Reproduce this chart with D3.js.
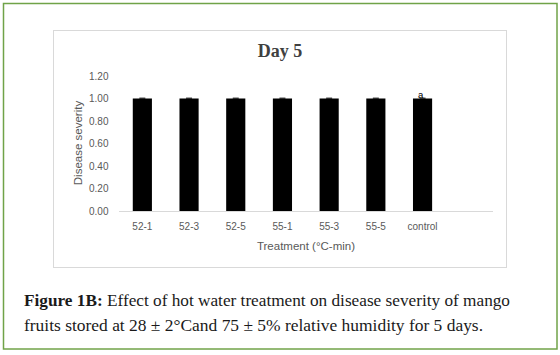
<!DOCTYPE html>
<html><head><meta charset="utf-8">
<script src="https://cdn.jsdelivr.net/npm/d3@7"></script>
<style>html,body{margin:0;padding:0;background:#fff;}svg{display:block;}</style>
</head><body>
<script>
const categories = ["52-1","52-3","52-5","55-1","55-3","55-5","control"];
const values = [1.0,1.0,1.0,1.0,1.0,1.0,1.0];
const errors = [0.003,0.003,0.003,0.003,0.003,0.003,0.003];
const letters = ["","","","","","","a"];
const yTicks = [0,0.2,0.4,0.6,0.8,1.0,1.2];

const W = 560, H = 355;
const svg = d3.select("body").append("svg").attr("width", W).attr("height", H);

// outer green frame
svg.append("rect").attr("x",3.5).attr("y",3.5).attr("width",553.5).attr("height",345.5)
  .attr("fill","#fff").attr("stroke","#70a348").attr("stroke-width",1.5);
// chart box
svg.append("rect").attr("x",53.5).attr("y",30.5).attr("width",453).attr("height",237)
  .attr("fill","#fff").attr("stroke","#d9d9d9").attr("stroke-width",1);

const x0 = 119, step = 46.7;
const x = d3.scaleBand().domain(categories).range([x0, x0 + step*categories.length]).paddingInner(0.59).paddingOuter(0.295);
const y = d3.scaleLinear().domain([0,1.2]).range([211,76]);

// title
svg.append("text").attr("x",280).attr("y",57).attr("text-anchor","middle")
  .attr("font-family","Liberation Serif").attr("font-weight","bold").attr("font-size",18)
  .attr("fill","#404040").text("Day 5");

// y axis
const yAxis = d3.axisLeft(y).tickValues(yTicks).tickFormat(d3.format(".2f")).tickSize(0).tickPadding(0);
const gy = svg.append("g").attr("transform","translate(108.5,0)").call(yAxis);
gy.select(".domain").remove();
gy.selectAll("text").attr("font-family","Liberation Sans").attr("font-size",10).attr("fill","#595959");

// bars
svg.append("g").selectAll("rect").data(categories).join("rect")
  .attr("x", d => x(d)).attr("width", x.bandwidth())
  .attr("y", (d,i) => y(values[i])).attr("height", (d,i) => y(0) - y(values[i]))
  .attr("fill","#000");

// error bars
const eb = svg.append("g");
categories.forEach((c,i) => {
  const cx = x(c) + x.bandwidth()/2;
  eb.append("line").attr("x1",cx-3).attr("x2",cx+3).attr("y1",y(values[i]+errors[i])).attr("y2",y(values[i]+errors[i]))
    .attr("stroke","#000").attr("stroke-width",1);
});

// letters
svg.append("g").selectAll("text").data(categories).join("text")
  .attr("x", d => x(d) + x.bandwidth()/2 - 2).attr("y", (d,i) => y(values[i]) - 1)
  .attr("text-anchor","middle").attr("font-family","Liberation Sans").attr("font-size",9.5).attr("fill","#000")
  .text((d,i) => letters[i]);

// x axis baseline (extends like Excel)
svg.append("line").attr("x1",x0).attr("x2",493).attr("y1",211.5).attr("y2",211.5)
  .attr("stroke","#d9d9d9").attr("stroke-width",1);
const xAxis = d3.axisBottom(x).tickSize(0).tickPadding(0);
const gx = svg.append("g").attr("transform","translate(0,229.5)").call(xAxis);
gx.select(".domain").remove();
gx.selectAll("text").attr("dy",0).attr("font-family","Liberation Sans").attr("font-size",10).attr("fill","#595959");

// axis titles
svg.append("text").attr("transform","translate(81.5,143) rotate(-90)").attr("text-anchor","middle")
  .attr("font-family","Liberation Sans").attr("font-size",11.5).attr("fill","#595959").text("Disease severity");
svg.append("text").attr("x",306).attr("y",249.5).attr("text-anchor","middle")
  .attr("font-family","Liberation Sans").attr("font-size",11.5).attr("fill","#595959").text("Treatment (°C-min)");

// caption
const cap1 = svg.append("text").attr("x",24).attr("y",305.5).attr("font-family","Liberation Serif").attr("font-size",16).attr("fill","#1a1a1a")
  .attr("textLength",486).attr("lengthAdjust","spacingAndGlyphs");
cap1.append("tspan").attr("font-weight","bold").text("Figure 1B:");
cap1.append("tspan").text(" Effect of hot water treatment on disease severity of mango");
svg.append("text").attr("x",24).attr("y",330.5).attr("font-family","Liberation Serif").attr("font-size",16).attr("fill","#1a1a1a")
  .attr("textLength",459).attr("lengthAdjust","spacingAndGlyphs")
  .text("fruits stored at 28 ± 2°Cand 75 ± 5% relative humidity for 5 days.");
</script>
</body></html>
